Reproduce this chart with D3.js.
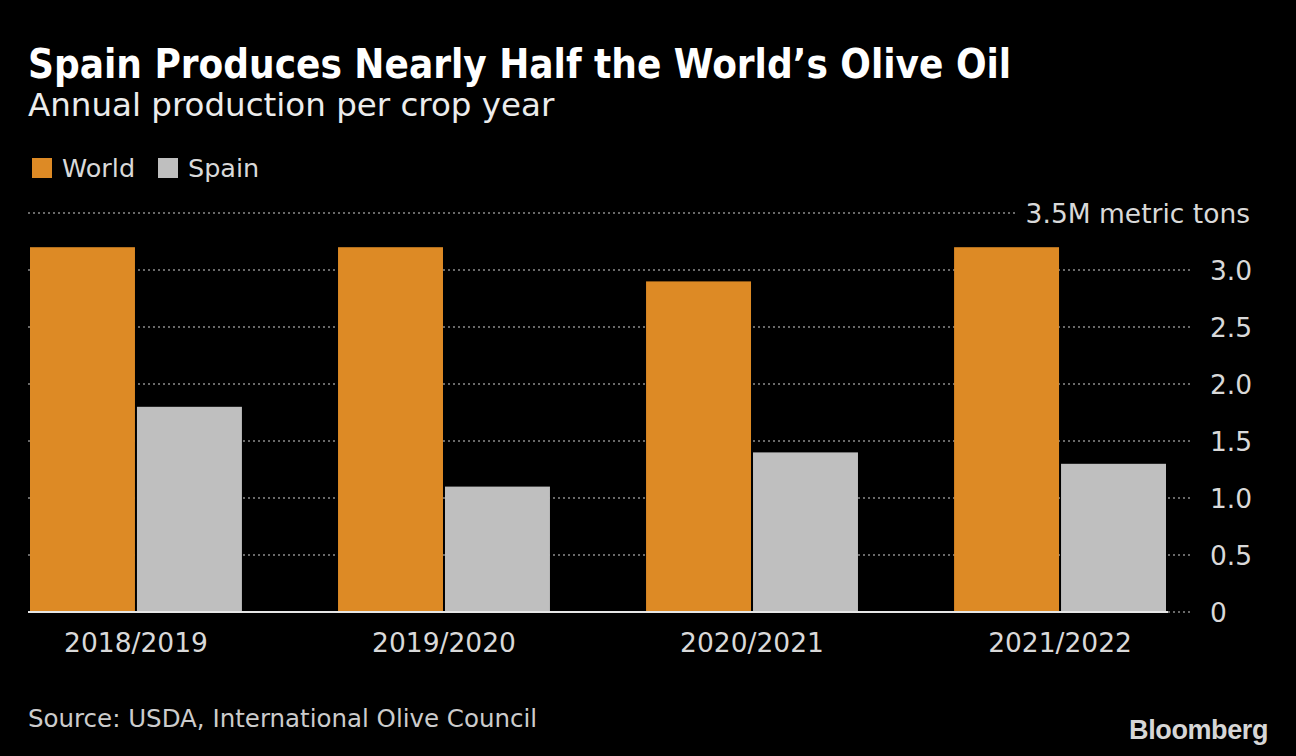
<!DOCTYPE html>
<html>
<head>
<meta charset="utf-8">
<script src="https://cdn.jsdelivr.net/npm/d3@7"></script>
<style>
  html, body { margin: 0; padding: 0; background: #000; }
  svg { display: block; }
</style>
</head>
<body>
<svg id="chart" width="1296" height="756"></svg>
<script>
const categories = ["2018/2019", "2019/2020", "2020/2021", "2021/2022"];
const seriesNames = ["World", "Spain"];
const worldValues = [3.2, 3.2, 2.9, 3.2];
const spainValues = [1.8, 1.1, 1.4, 1.3];
const yTicks = [0, 0.5, 1.0, 1.5, 2.0, 2.5, 3.0, 3.5];
const yTickLabels = ["0", "0.5", "1.0", "1.5", "2.0", "2.5", "3.0", "3.5M metric tons"];
const colors = ["#dd8a25", "#bfbfbf"];

const FONT = "'DejaVu Sans', sans-serif";
const FONT_COND = "'DejaVu Sans Condensed', 'DejaVu Sans', sans-serif";

const svg = d3.select("#chart");
svg.append("rect").attr("width", 1296).attr("height", 756).attr("fill", "#000");

const data = categories.map((c, i) => ({cat: c, values: [worldValues[i], spainValues[i]]}));

const x0 = d3.scaleBand().domain(categories).range([30, 1166]).paddingInner(0.312).paddingOuter(0);
const x1 = d3.scaleBand().domain(seriesNames).range([0, x0.bandwidth()]).padding(0);
const y = d3.scaleLinear().domain([0, 3.5]).range([612, 213]);
const color = d3.scaleOrdinal().domain(seriesNames).range(colors);

// Title & subtitle
svg.append("text").attr("x", 28).attr("y", 78)
  .style("font-family", FONT_COND)
  .attr("font-weight", "bold").attr("font-size", 40).attr("fill", "#ffffff")
  .text("Spain Produces Nearly Half the World\u2019s Olive Oil");
svg.append("text").attr("x", 28).attr("y", 116)
  .style("font-family", FONT)
  .attr("font-size", 32.5).attr("fill", "#ececec")
  .text("Annual production per crop year");

// Legend
const legend = svg.append("g");
const legendX = [32, 158];
seriesNames.forEach((s, i) => {
  legend.append("rect").attr("x", legendX[i]).attr("y", 158).attr("width", 20).attr("height", 20)
    .attr("fill", color(s));
  legend.append("text").attr("x", legendX[i] + 30).attr("y", 177)
    .style("font-family", FONT)
    .attr("font-size", 25.5).attr("fill", "#d9d9d9").text(s);
});

// Gridlines
const grid = svg.append("g");
yTicks.forEach((t, i) => {
  const last = i === yTicks.length - 1;
  grid.append("line")
    .attr("x1", 28).attr("x2", last ? 1018 : 1190)
    .attr("y1", y(t)).attr("y2", y(t))
    .attr("stroke", "#8c8c8c").attr("stroke-width", 1.5)
    .attr("stroke-dasharray", "2,3");
});

// Y axis labels
const yAxis = d3.axisRight(y).tickValues(yTicks).tickSize(0)
  .tickFormat((d, i) => yTickLabels[i]);
const yg = svg.append("g").attr("transform", "translate(1210,0)").call(yAxis);
yg.select(".domain").remove();
yg.selectAll("text").attr("x", 0).attr("dy", "0.36em")
  .attr("font-size", 26.5).attr("fill", "#d9d9d9")
  .style("font-family", FONT);
yg.selectAll(".tick").filter((d, i) => i === yTicks.length - 1)
  .select("text").attr("text-anchor", "end").attr("x", 40);

// Bars
const groups = svg.append("g").selectAll("g").data(data).join("g")
  .attr("transform", d => `translate(${x0(d.cat)},0)`);
groups.selectAll("rect").data(d => d.values.map((v, j) => ({name: seriesNames[j], v})))
  .join("rect")
  .attr("x", d => x1(d.name) + (d.name === "Spain" ? 1 : 0))
  .attr("width", d => x1.bandwidth() - 1)
  .attr("y", d => y(d.v))
  .attr("height", d => y(0) - y(d.v))
  .attr("fill", d => color(d.name));

// Baseline
svg.append("line").attr("x1", 28).attr("x2", 1168).attr("y1", y(0)).attr("y2", y(0))
  .attr("stroke", "#e6e6e6").attr("stroke-width", 2);

// X axis labels
const xAxis = d3.axisBottom(x0).tickSize(0);
const xg = svg.append("g").attr("transform", `translate(0,${y(0)})`).call(xAxis);
xg.select(".domain").remove();
xg.selectAll("text").attr("y", 0).attr("dy", "1.5em")
  .attr("font-size", 26.5).attr("fill", "#d9d9d9")
  .style("font-family", FONT);

// Source
svg.append("text").attr("x", 28).attr("y", 727)
  .style("font-family", FONT)
  .attr("font-size", 24.5).attr("fill", "#cccccc")
  .text("Source: USDA, International Olive Council");

// Bloomberg logo
svg.append("text").attr("x", 1268).attr("y", 739).attr("text-anchor", "end")
  .style("font-family", "'Liberation Sans', Arial, sans-serif")
  .attr("font-weight", "bold").attr("font-size", 27).attr("letter-spacing", -0.4)
  .attr("fill", "#d6d6d6").text("Bloomberg");
</script>
</body>
</html>
